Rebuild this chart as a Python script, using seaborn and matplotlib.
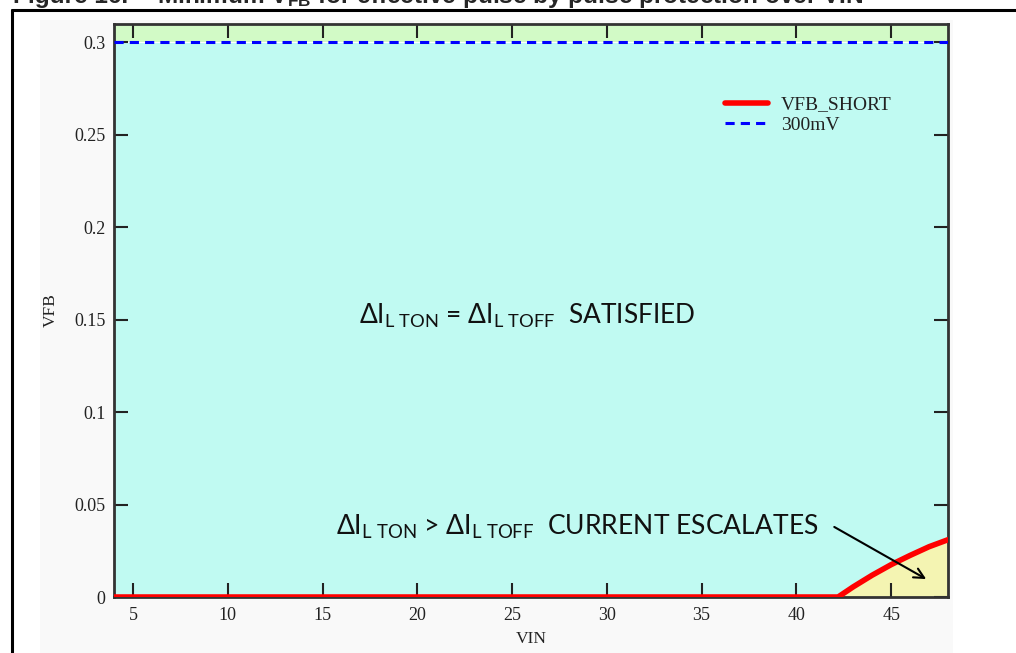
import matplotlib
matplotlib.use("Agg")
import matplotlib.pyplot as plt
import seaborn as sns
import numpy as np
import pandas as pd
from matplotlib.lines import Line2D
from matplotlib.patches import Rectangle

# Minimum feedback voltage vs. input voltage
vin = [4.0, 42.2, 43.0, 44.0, 45.0, 46.0, 47.0, 48.0]
vfb_short = [0.0, 0.0, 0.0055, 0.0118, 0.0175, 0.0225, 0.0272, 0.031]
limit_300mv = [0.3, 0.3]
limit_vin = [4.0, 48.0]
x_ticks = [5, 10, 15, 20, 25, 30, 35, 40, 45]
y_ticks = [0, 0.05, 0.1, 0.15, 0.2, 0.25, 0.3]
y_ticklabels = ["0", "0.05", "0.1", "0.15", "0.2", "0.25", "0.3"]

sns.set_theme(style="white")
plt.rcParams["font.family"] = ["Liberation Serif", "DejaVu Serif"]
plt.rcParams["mathtext.fontset"] = "custom"
plt.rcParams["mathtext.rm"] = "Lato"
plt.rcParams["mathtext.it"] = "Lato"
plt.rcParams["mathtext.bf"] = "Liberation Sans:bold"

fig = plt.figure(figsize=(10.16, 6.53), dpi=100)
fig.patch.set_facecolor("white")

# faint page background behind the plot
fig.patches.append(Rectangle((40 / 1016, 0), 913 / 1016, 1 - 20 / 653,
                             transform=fig.transFigure, facecolor="#f9f9f9",
                             edgecolor="none", zorder=-10))
# document frame lines
fig.add_artist(Line2D([12 / 1016, 12 / 1016], [0, 1 - 10 / 653], transform=fig.transFigure,
                      color="black", lw=2.2))
fig.add_artist(Line2D([12 / 1016, 1.0], [1 - 10 / 653, 1 - 10 / 653], transform=fig.transFigure,
                      color="black", lw=2.2))

# caption, partly above the page edge
fig.text(13 / 1016, 1 - 3.5 / 653, "Figure 16.",
         family="Liberation Sans", weight="bold", fontsize=17.6, ha="left", va="baseline")
fig.text(157 / 1016, 1 - 3.5 / 653,
         r"Minimum V$_{\mathbf{FB}}$ for effective pulse by pulse protection over VIN",
         family="Liberation Sans", weight="bold", fontsize=17.6, ha="left", va="baseline")

ax = fig.add_axes([114 / 1016, 1 - 597 / 653, 834 / 1016, 573 / 653])
ax.set_xlim(4, 48)
ax.set_ylim(0, 0.31)

x_fill = np.array(vin)
y_fill = np.array(vfb_short)
ax.fill_between(x_fill, 0, y_fill, color="#f4f4b2", lw=0, zorder=0)
ax.fill_between(x_fill, y_fill, 0.3, color="#c0faf2", lw=0, zorder=0)
ax.fill_between(x_fill, 0.3, 0.31, color="#d2fac6", lw=0, zorder=0)

df = pd.DataFrame({"VIN": vin, "VFB": vfb_short})
sns.lineplot(data=df, x="VIN", y="VFB", ax=ax, color="#ff0000", lw=4,
             label="VFB_SHORT", zorder=3)
lim = pd.DataFrame({"VIN": limit_vin, "VFB": limit_300mv})
sns.lineplot(data=lim, x="VIN", y="VFB", ax=ax, color="#0000ff", lw=2.2,
             linestyle=(0, (3, 2)), label="300mV", zorder=3)

ax.set_xticks(x_ticks)
ax.set_yticks(y_ticks)
ax.set_yticklabels(y_ticklabels)
ax.tick_params(axis="both", which="both", direction="in", length=10, width=1.5,
               color="#222222", labelsize=13, bottom=True, left=True, top=True, right=True,
               labeltop=False, labelright=False, labelcolor="#222222", pad=6)
ax.tick_params(axis="x", pad=7)
for s in ax.spines.values():
    s.set_color("#333333")
    s.set_linewidth(2)

ax.set_xlabel("VIN", fontsize=12.5, labelpad=5, color="#222222")
ax.set_ylabel("VFB", fontsize=12.5, labelpad=11, color="#222222")

leg = ax.legend(loc="upper left", bbox_to_anchor=(0.723, 0.888), frameon=False,
                fontsize=14, handlelength=2.2, handletextpad=0.7, labelspacing=0.15,
                borderaxespad=0)
for t in leg.get_texts():
    t.set_color("#222222")

ax.text(16.9, 0.152, r"$\Delta$I$_{\mathrm{L\ TON}}$ = $\Delta$I$_{\mathrm{L\ TOFF}}$  SATISFIED",
        family="Lato", fontsize=18.9, ha="left", va="center", color="#111111")
ax.text(15.7, 0.038, r"$\Delta$I$_{\mathrm{L\ TON}}$ > $\Delta$I$_{\mathrm{L\ TOFF}}$  CURRENT ESCALATES",
        family="Lato", fontsize=19.1, ha="left", va="center", color="#111111")
ax.annotate("", xy=(46.85, 0.0097), xytext=(42.0, 0.0379),
            arrowprops=dict(arrowstyle="->", color="black", lw=1.5,
                            mutation_scale=18, shrinkA=0, shrinkB=0))

fig.savefig("out.png", dpi=100)
